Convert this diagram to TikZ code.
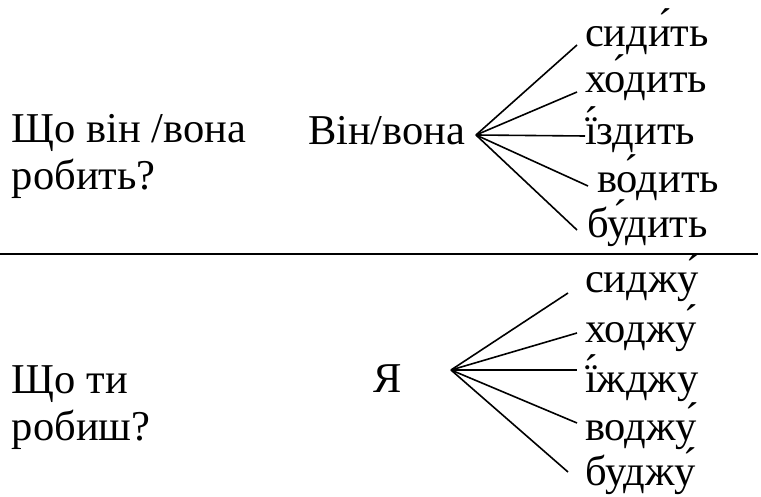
\documentclass[tikz,border=0pt]{standalone}
\usepackage{fontspec}
\setmainfont{Liberation Serif}
\begin{document}
\begin{tikzpicture}[x=1pt,y=-1pt,
  txt/.style={inner sep=0pt,outer sep=0pt,anchor=base west,font=\fontsize{42.5}{48}\selectfont},
  fan/.style={line width=1.6pt},
  rule/.style={line width=2.2pt}]
\useasboundingbox (0,0) rectangle (761,497);
% upper block
\node[txt] (q1a) at (12,143) {Що він /вона};
\node[txt] (q1b) at (12,190) {робить?};
\node[txt] (a1) at (308,145) {Він/вона};
\coordinate (o1) at (476,135);
\node[txt] (u1) at (585,47) {сиди́ть};
\node[txt] (u2) at (585,93) {хо́дить};
\node[txt] (u3) at (585,145) {ї́здить};
\node[txt] (u4) at (597,193) {во́дить};
\node[txt] (u5) at (587,238) {бу́дить};
\coordinate (e1) at (577,45);
\coordinate (e2) at (577,92);
\coordinate (e3) at (585,136);
\coordinate (e4) at (588,186);
\coordinate (e5) at (577,230);
\foreach \e in {e1,e2,e3,e4,e5} \draw[fan] (o1) -- (\e);
% rule
\coordinate (r1) at (0,254);
\coordinate (r2) at (758,254);
\draw[rule] (r1) -- (r2);
% lower block
\node[txt] (q2a) at (12,393) {Що ти};
\node[txt] (q2b) at (12,440) {робиш?};
\node[txt] (a2) at (373,392) {Я};
\coordinate (o2) at (451,370);
\node[txt] (l1) at (585,293) {сиджу́};
\node[txt] (l2) at (585,342) {ходжу́};
\node[txt] (l3) at (585,392) {ї́жджу};
\node[txt] (l4) at (585,440) {воджу́};
\node[txt] (l5) at (585,485) {буджу́};
\coordinate (f1) at (568,293);
\coordinate (f2) at (577,333);
\coordinate (f3) at (577,370);
\coordinate (f4) at (577,423);
\coordinate (f5) at (568,472);
\foreach \e in {f1,f2,f3,f4,f5} \draw[fan] (o2) -- (\e);
\end{tikzpicture}
\end{document}
